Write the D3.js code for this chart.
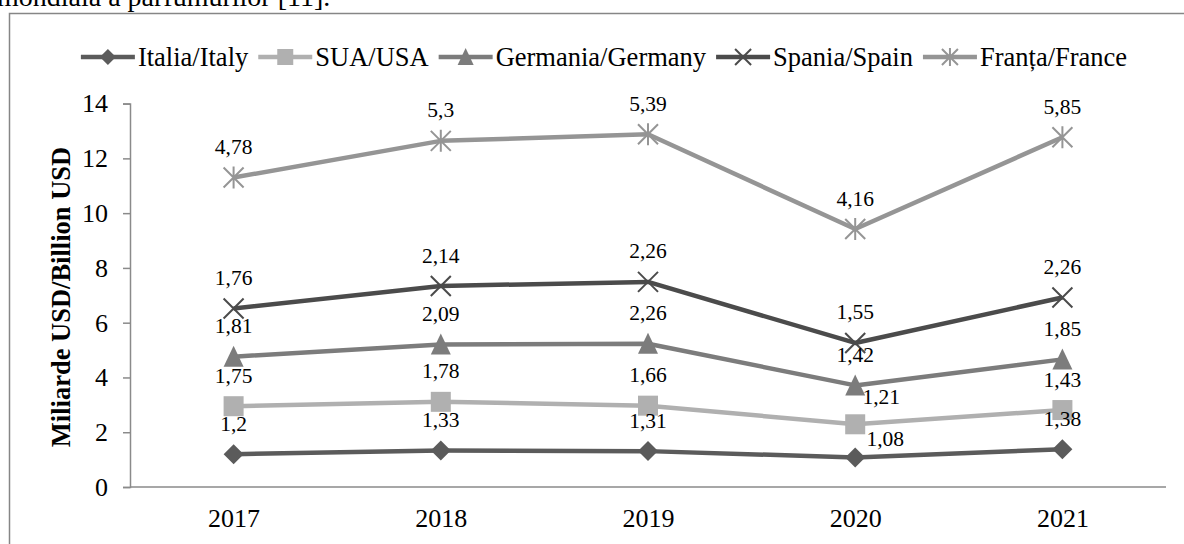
<!DOCTYPE html>
<html><head><meta charset="utf-8">
<script src="https://cdn.jsdelivr.net/npm/d3@7"></script>
<style>
html,body{margin:0;padding:0;background:#fff;overflow:hidden;}
svg{display:block;font-family:"Liberation Serif","Times New Roman",serif;}
</style></head>
<body>
<svg id="c" width="1184" height="544"></svg>
<script>
const years = ["2017","2018","2019","2020","2021"];
const seriesNames = ["Italia/Italy","SUA/USA","Germania/Germany","Spania/Spain","Franța/France"];
const italy   = [1.2, 1.33, 1.31, 1.08, 1.38];
const usa     = [1.75, 1.78, 1.66, 1.21, 1.43];
const germany = [1.81, 2.09, 2.26, 1.42, 1.85];
const spain   = [1.76, 2.14, 2.26, 1.55, 2.26];
const france  = [4.78, 5.3, 5.39, 4.16, 5.85];
const yTicks  = [0, 2, 4, 6, 8, 10, 12, 14];
const yTitle  = "Miliarde USD/Billion USD";

const colors  = ["#5b5b5b", "#b0b0b0", "#7c7c7c", "#4b4b4b", "#959595"];
const symbols = ["diamond", "square", "triangle", "x", "asterisk"];
const seriesValues = [italy, usa, germany, spain, france];
const FONT = "Liberation Serif";

const svg = d3.select("#c");

// cut-off text at the top
svg.append("text").attr("x", -3).attr("y", 6).attr("font-size", 28).attr("fill", "#000")
  .attr("font-family", FONT).text("mondială a parfumurilor [11].");

// chart border
svg.append("rect").attr("x", 9.5).attr("y", 13.5).attr("width", 1200).attr("height", 600)
  .attr("fill", "none").attr("stroke", "#868686").attr("stroke-width", 1.5);

const x = d3.scalePoint().domain(years).range([130, 1166]).padding(0.5);
const y = d3.scaleLinear().domain([0, 14]).range([487, 103.6]);

// stacked cumulative values
const stacked = [];
let run = years.map(() => 0);
seriesValues.forEach(vals => {
  run = run.map((r, i) => r + vals[i]);
  stacked.push(run.slice());
});

// axes
const yAxis = svg.append("g").attr("transform", "translate(130,0)")
  .call(d3.axisLeft(y).tickValues(yTicks).tickSize(7).tickPadding(15).tickFormat(d3.format("d")));
yAxis.select(".domain").attr("stroke", "#8a8a8a").attr("stroke-width", 1.5);
yAxis.selectAll(".tick line").attr("stroke", "#8a8a8a").attr("stroke-width", 1.5);
yAxis.selectAll("text").attr("font-size", 26).attr("fill", "#000").attr("font-family", FONT);

const xAxis = svg.append("g").attr("transform", "translate(0,487)")
  .call(d3.axisBottom(x).tickSize(0).tickPadding(22));
xAxis.select(".domain").attr("stroke", "#8a8a8a").attr("stroke-width", 1.5)
  .attr("d", "M130,0H1166");
xAxis.selectAll("text").attr("font-size", 26).attr("fill", "#000").attr("font-family", FONT);

// y title
svg.append("text")
  .attr("transform", "translate(70,297) rotate(-90)")
  .attr("text-anchor", "middle").attr("font-weight", "bold").attr("font-size", 26.5)
  .attr("font-family", FONT).text(yTitle);

function drawMarker(g, type, color, cx, cy, s) {
  const h = s / 2;
  if (type === "diamond") {
    g.append("path").attr("d", `M${cx},${cy-h}L${cx+h},${cy}L${cx},${cy+h}L${cx-h},${cy}Z`).attr("fill", color);
  } else if (type === "square") {
    g.append("rect").attr("x", cx-h).attr("y", cy-h).attr("width", s).attr("height", s).attr("fill", color);
  } else if (type === "triangle") {
    g.append("path").attr("d", `M${cx},${cy-h-1}L${cx+h},${cy+h}L${cx-h},${cy+h}Z`).attr("fill", color);
  } else if (type === "x") {
    g.append("path").attr("d", `M${cx-h},${cy-h}L${cx+h},${cy+h}M${cx-h},${cy+h}L${cx+h},${cy-h}`)
      .attr("stroke", color).attr("stroke-width", 2).attr("fill", "none");
  } else if (type === "asterisk") {
    g.append("path").attr("d", `M${cx-h},${cy-h}L${cx+h},${cy+h}M${cx-h},${cy+h}L${cx+h},${cy-h}M${cx},${cy-h-1}L${cx},${cy+h+1}`)
      .attr("stroke", color).attr("stroke-width", 2).attr("fill", "none");
  }
}

const line = d3.line().x((d, i) => x(years[i])).y(d => y(d));
const plot = svg.append("g");
stacked.forEach((vals, si) => {
  plot.append("path").attr("d", line(vals)).attr("fill", "none")
    .attr("stroke", colors[si]).attr("stroke-width", 4.5).attr("stroke-linejoin", "round");
});
stacked.forEach((vals, si) => {
  vals.forEach((v, i) => drawMarker(plot, symbols[si], colors[si], x(years[i]), y(v), 20));
});

// data labels
const fmt = v => String(v).replace(".", ",");
const labelShift = { "0-3": [30, 12], "1-3": [26, 3] };
stacked.forEach((vals, si) => {
  vals.forEach((v, i) => {
    const sh = labelShift[si + "-" + i] || [0, 0];
    plot.append("text").attr("x", x(years[i]) + sh[0]).attr("y", y(v) - 31 + sh[1])
      .attr("dy", "0.35em").attr("text-anchor", "middle").attr("font-size", 21.5).attr("fill", "#000")
      .attr("font-family", FONT).text(fmt(seriesValues[si][i]));
  });
});

// legend
const leg = svg.append("g");
let lx = 0;
const LINE = 54;
seriesNames.forEach((name, si) => {
  const g = leg.append("g");
  g.append("line").attr("x1", 0).attr("x2", LINE).attr("y1", 0).attr("y2", 0)
    .attr("stroke", colors[si]).attr("stroke-width", 4.5);
  drawMarker(g, symbols[si], colors[si], LINE / 2, 0, 16);
  const t = g.append("text").attr("x", LINE + 3).attr("y", 0).attr("dy", "0.33em")
    .attr("font-size", 26.5).attr("fill", "#000").attr("font-family", FONT).text(name);
  const w = LINE + 3 + t.node().getComputedTextLength();
  g.attr("transform", `translate(${lx},0)`);
  lx += w + 10;
});
const total = lx - 10;
leg.attr("transform", `translate(${604 - total / 2},57)`);
</script>
</body></html>
